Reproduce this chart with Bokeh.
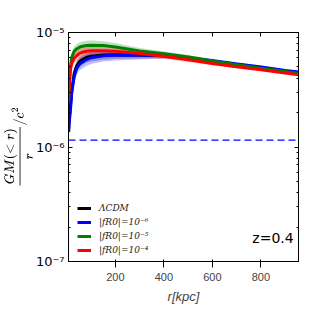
from bokeh.plotting import figure
from bokeh.models import (Range1d, LinearAxis, LogAxis, FixedTicker, Span,
                          Legend, LegendItem, Label, CustomJSTickFormatter)
from bokeh.embed import file_html
from bokeh.resources import INLINE

# radius [kpc]
r_kpc = [7, 9, 12, 15, 20, 30, 40, 50, 60, 80, 100, 150, 200, 300, 400, 500, 600, 700, 800, 900, 955]
# GM(<r)/r/c^2 in units of 1e-5
lcdm = [0.14, 0.17, 0.20, 0.235, 0.31, 0.44, 0.51, 0.55, 0.575, 0.605, 0.62, 0.635, 0.64, 0.635, 0.625, 0.595, 0.56, 0.525, 0.492, 0.46, 0.445]
fr6 = [0.135, 0.16, 0.185, 0.217, 0.30, 0.414, 0.484, 0.524, 0.545, 0.580, 0.603, 0.627, 0.633, 0.633, 0.633, 0.600, 0.568, 0.532, 0.499, 0.467, 0.451]
fr5 = [0.26, 0.33, 0.428, 0.511, 0.609, 0.685, 0.719, 0.741, 0.756, 0.770, 0.775, 0.770, 0.748, 0.689, 0.652, 0.611, 0.563, 0.523, 0.488, 0.456, 0.439]
fr4 = [0.26, 0.319, 0.404, 0.482, 0.542, 0.597, 0.627, 0.652, 0.668, 0.685, 0.692, 0.692, 0.685, 0.655, 0.621, 0.577, 0.536, 0.503, 0.472, 0.443, 0.428]
# relative scatter (1 sigma)
sd_lcdm = [0.12, 0.12, 0.12, 0.12, 0.12, 0.11, 0.11, 0.11, 0.11, 0.10, 0.10, 0.09, 0.08, 0.065, 0.05, 0.04, 0.035, 0.03, 0.025, 0.02, 0.018]
sd_fr6 = [0.14, 0.14, 0.14, 0.14, 0.13, 0.13, 0.13, 0.12, 0.12, 0.12, 0.12, 0.11, 0.10, 0.08, 0.06, 0.05, 0.04, 0.035, 0.03, 0.025, 0.02]
sd_fr5 = [0.10, 0.10, 0.10, 0.10, 0.10, 0.10, 0.10, 0.10, 0.10, 0.10, 0.10, 0.09, 0.08, 0.065, 0.05, 0.04, 0.035, 0.03, 0.025, 0.02, 0.018]
sd_fr4 = [0.10, 0.10, 0.10, 0.10, 0.10, 0.10, 0.10, 0.10, 0.10, 0.09, 0.09, 0.08, 0.07, 0.06, 0.05, 0.04, 0.035, 0.03, 0.025, 0.02, 0.018]
unit = 1e-5
dashed_level = 1.146e-6
x_ticks = [200, 400, 600, 800]
y_ticks = [1e-7, 1e-6, 1e-5]
y_minor = [m * 10.0 ** e for e in (-7, -6) for m in range(2, 10)]
labels = ["ΛCDM", "|fR0|=10⁻⁶", "|fR0|=10⁻⁵", "|fR0|=10⁻⁴"]
colors = ["black", "#0000ff", "#008000", "#ff0000"]
z_text = "z=0.4"
y_title = r"$$\frac{GM(<r)}{r}/c^2$$"
x_title = "r[kpc]"

p = figure(width=300, height=306, y_axis_type="log",
           x_range=Range1d(6.5, 955), y_range=Range1d(1e-7, 1e-5),
           output_backend="svg", toolbar_location=None,
           min_border_left=63, min_border_right=2, min_border_top=32, min_border_bottom=39)
p.xgrid.visible = False
p.ygrid.visible = False
p.outline_line_color = "black"
p.background_fill_color = "white"

series = [lcdm, fr6, fr5, fr4]
sds = [sd_lcdm, sd_fr6, sd_fr5, sd_fr4]
for vals, sd, c in zip(series, sds, colors):
    lo = [v * unit * (1 - s) for v, s in zip(vals, sd)]
    hi = [v * unit * (1 + s) for v, s in zip(vals, sd)]
    p.varea(x=r_kpc, y1=lo, y2=hi, fill_color=c, fill_alpha=0.25)

p.add_layout(Span(location=dashed_level, dimension="width", line_color="#0000ff",
                  line_dash="7 4", line_width=1.3))

renderers = []
for vals, c in zip(series, colors):
    renderers.append(p.line(r_kpc, [v * unit for v in vals], line_color=c, line_width=3))

legend = Legend(items=[LegendItem(label=l, renderers=[rr]) for l, rr in zip(labels, renderers)],
                location=(9, 6), background_fill_alpha=0, border_line_alpha=0,
                label_text_font="DejaVu Serif", label_text_font_style="italic",
                label_text_font_size="9px", label_text_color="#222222",
                glyph_width=14, glyph_height=10,
                label_height=10, spacing=4, padding=0, margin=0, label_standoff=8)
p.add_layout(legend)

p.add_layout(Label(x=935, y=1.37e-7, text=z_text, text_align="right",
                   text_font="DejaVu Sans", text_font_size="14px", text_color="black"))

sup_fmt = CustomJSTickFormatter(code="""
const sup = {'-': '\u207b', '0': '\u2070', '1': '\u00b9', '2': '\u00b2', '3': '\u00b3',
             '4': '\u2074', '5': '\u2075', '6': '\u2076', '7': '\u2077', '8': '\u2078', '9': '\u2079'};
const e = Math.round(Math.log10(tick));
return '10' + String(e).split('').map(c => sup[c]).join('');
""")

p.xaxis.ticker = FixedTicker(ticks=x_ticks)
p.yaxis.ticker = FixedTicker(ticks=y_ticks, minor_ticks=y_minor)
p.yaxis.formatter = sup_fmt
p.xaxis.axis_label = x_title
p.yaxis.axis_label = y_title

top = LinearAxis(ticker=FixedTicker(ticks=x_ticks))
right = LogAxis(ticker=FixedTicker(ticks=y_ticks, minor_ticks=y_minor))
p.add_layout(top, "above")
p.add_layout(right, "right")

for ax in [p.xaxis[0], p.yaxis[0], top, right]:
    ax.major_tick_in = 4
    ax.major_tick_out = 0
    ax.minor_tick_in = 2
    ax.minor_tick_out = 0
    ax.axis_line_color = "black"
    ax.major_tick_line_color = "black"
    ax.minor_tick_line_color = "black"
    ax.major_label_text_font = "DejaVu Sans"
    ax.major_label_text_font_size = "13px"
    ax.major_label_text_color = "black"
    ax.axis_label_text_color = "black"
    ax.major_label_standoff = 4
for ax in [top, right]:
    ax.major_label_standoff = 0
    ax.major_label_text_font_size = "0px"
    ax.major_label_text_alpha = 0
p.xaxis[0].minor_tick_line_color = None
top.minor_tick_line_color = None
p.xaxis[0].major_label_text_font_size = "14px"
p.xaxis[0].major_label_standoff = 3
p.xaxis[0].axis_label_text_font = "DejaVu Serif"
p.xaxis[0].axis_label_text_font_style = "italic"
p.xaxis[0].axis_label_text_font_size = "13px"
p.xaxis[0].axis_label_standoff = 2
p.yaxis[0].axis_label_text_font_size = "10px"
p.yaxis[0].axis_label_standoff = 0

open("out.html", "w").write(file_html(p, INLINE))
